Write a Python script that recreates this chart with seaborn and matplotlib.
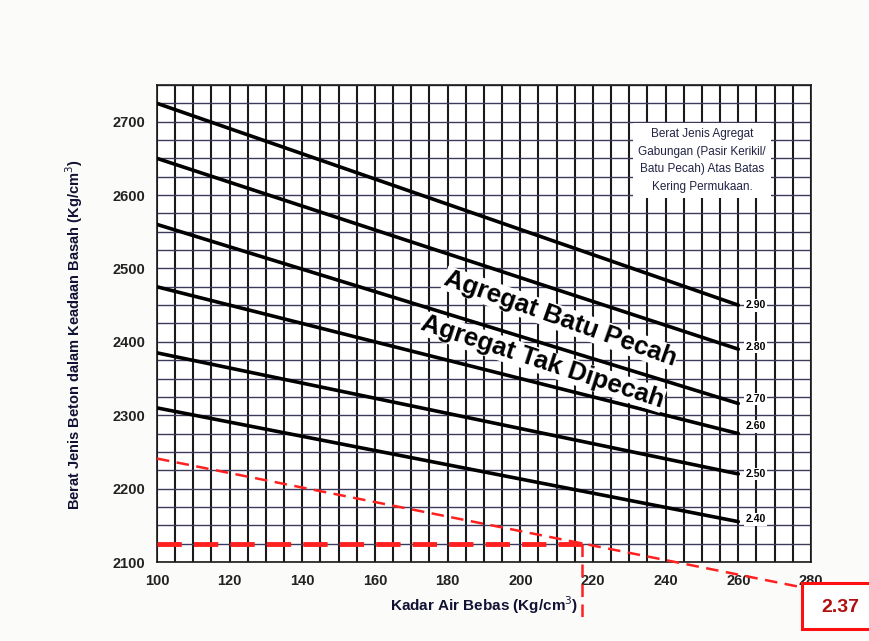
import numpy as np
import pandas as pd
import matplotlib
matplotlib.use("Agg")
import matplotlib.pyplot as plt
import seaborn as sns
from matplotlib.patches import Rectangle

# ---- data ----
sg_labels = ["2.90", "2.80", "2.70", "2.60", "2.50", "2.40"]
x_start = 100
x_end = 260
y_start = [2725, 2650, 2560, 2475, 2385, 2310]
y_end = [2450, 2390, 2316, 2275, 2220, 2155]
label_y = [2450, 2393, 2322, 2285, 2220, 2158]

x_ticks = [100, 120, 140, 160, 180, 200, 220, 240, 260, 280]
y_ticks = [2100, 2200, 2300, 2400, 2500, 2600, 2700]

# red construction lines
diag_x = [100, 277]
diag_y = [2241, 2066]
hline_x = [100, 217]
hline_y = [2125, 2125]
vline_x = [217, 217]
vline_y = [2125, 2015]
result_text = "2.37"

rows = []
for lab, y0, y1 in zip(sg_labels, y_start, y_end):
    rows.append({"sg": lab, "x": x_start, "y": y0})
    rows.append({"sg": lab, "x": x_end, "y": y1})
df = pd.DataFrame(rows)

sns.set_style("white")
plt.rcParams["font.family"] = ["Liberation Sans", "DejaVu Sans"]
plt.rcParams["text.color"] = "#111111"
plt.rcParams["axes.labelcolor"] = "#111133"
plt.rcParams["xtick.color"] = "#222222"
plt.rcParams["ytick.color"] = "#222222"

fig = plt.figure(figsize=(8.7, 6.41), dpi=100)
fig.patch.set_facecolor("#fbfbf9")
ax = fig.add_axes([157 / 870, 1 - 562 / 641, (811 - 157) / 870, (562 - 85) / 641])
ax.set_facecolor("white")

ax.set_xlim(100, 280)
ax.set_ylim(2100, 2750)

# grid
ax.set_xticks(np.arange(100, 281, 5), minor=True)
ax.set_yticks(np.arange(2100, 2751, 25), minor=True)
ax.grid(which="both", axis="x", color="#1a1a1a", linewidth=1.5)
ax.grid(which="both", axis="y", color="#3a3a5a", linewidth=1.0)
ax.set_axisbelow(True)

sns.lineplot(data=df, x="x", y="y", hue="sg", palette=["black"] * len(sg_labels),
             legend=False, linewidth=2.6, ax=ax, zorder=3)

for lab, ly in zip(sg_labels, label_y):
    ax.text(262, ly, lab, fontsize=7.5, fontweight="bold", ha="left", va="center",
            color="black",
            bbox=dict(facecolor="white", edgecolor="none", pad=1.0), zorder=4)

ax.text(250, 2647,
        "Berat Jenis Agregat\nGabungan (Pasir Kerikil/\nBatu Pecah) Atas Batas\nKering Permukaan.",
        fontsize=8.5, ha="center", va="center", linespacing=1.6, color="#222244",
        bbox=dict(facecolor="white", edgecolor="none", pad=4), zorder=4)

ax.text(211, 2432, "Agregat Batu Pecah", fontsize=18.5, fontweight="bold",
        rotation=-19.5, ha="center", va="center", rotation_mode="anchor",
        color="black",
        bbox=dict(facecolor="white", edgecolor="none", pad=0.3), zorder=4)
ax.text(206, 2373, "Agregat Tak Dipecah", fontsize=18.5, fontweight="bold",
        rotation=-18, ha="center", va="center", rotation_mode="anchor",
        color="black",
        bbox=dict(facecolor="white", edgecolor="none", pad=0.3), zorder=4)

# red construction lines
ax.plot(diag_x, diag_y, color="#ff2020", linestyle=(0, (5, 3)), linewidth=1.8,
        clip_on=False, zorder=5)
ax.plot(hline_x, hline_y, color="#ff2020", linestyle=(0, (5, 2.5)), linewidth=3.5,
        clip_on=False, zorder=5)
ax.plot(vline_x, vline_y, color="#ff2020", linestyle=(0, (5, 3)), linewidth=1.8,
        clip_on=False, zorder=5)

ax.set_xticks(x_ticks)
ax.set_yticks(y_ticks)
ax.set_xticklabels([str(v) for v in x_ticks], fontsize=10.5, fontweight="bold")
ax.set_yticklabels([str(v) for v in y_ticks], fontsize=10.5, fontweight="bold")
ax.tick_params(axis="both", which="major", length=5, width=1, direction="out", color="#333")
ax.tick_params(axis="both", which="minor", length=0)

for s in ax.spines.values():
    s.set_color("#1a1a1a")
    s.set_linewidth(1.2)

ax.set_xlabel("Kadar Air Bebas (Kg/cm$^3$)", fontsize=11, fontweight="bold", labelpad=5)
ax.set_ylabel("Berat Jenis Beton dalam Keadaan Basah (Kg/cm$^3$)", fontsize=10.5,
              fontweight="bold")
ax.yaxis.set_label_coords(-0.11, 0.476)

# result box
fig.patches.append(Rectangle((802 / 870, 1 - 629 / 641), 80 / 870, 46 / 641,
                             transform=fig.transFigure, facecolor="white",
                             edgecolor="#ff1010", linewidth=2.2, zorder=10))
fig.text(840 / 870, 1 - 607 / 641, result_text, fontsize=14, fontweight="bold",
         color="#b01010", ha="center", va="center", zorder=11)

fig.savefig("out.png", dpi=100, facecolor=fig.get_facecolor())
